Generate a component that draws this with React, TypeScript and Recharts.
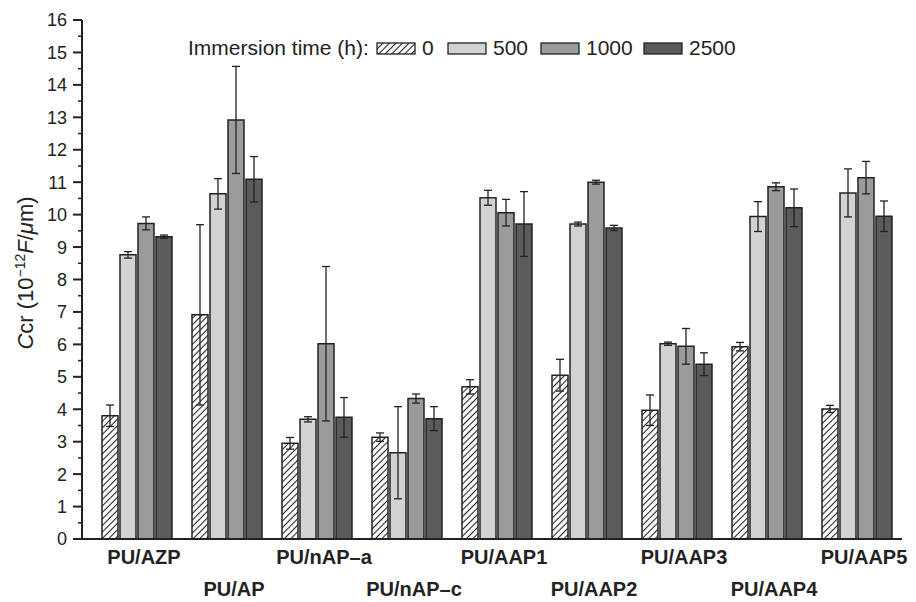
import { BarChart, Bar, XAxis, YAxis, ErrorBar } from 'recharts'

const FONT = "'Liberation Sans', Arial, Helvetica, sans-serif"
const INK = '#222'

const samples = ['PU/AZP', 'PU/AP', 'PU/nAP–a', 'PU/nAP–c', 'PU/AAP1', 'PU/AAP2', 'PU/AAP3', 'PU/AAP4', 'PU/AAP5']

// Ccr values (10^-12 F/µm) per immersion time, with error half-widths
const h0 = [3.8, 6.91, 2.95, 3.14, 4.69, 5.05, 3.97, 5.93, 4.01]
const h0Err = [0.33, 2.78, 0.18, 0.13, 0.22, 0.49, 0.47, 0.13, 0.11]
const h500 = [8.76, 10.64, 3.69, 2.66, 10.52, 9.71, 6.02, 9.94, 10.67]
const h500Err = [0.1, 0.47, 0.08, 1.42, 0.23, 0.06, 0.05, 0.46, 0.74]
const h1000 = [9.73, 12.92, 6.02, 4.33, 10.06, 11.0, 5.94, 10.86, 11.14]
const h1000Err = [0.2, 1.65, 2.38, 0.14, 0.41, 0.06, 0.55, 0.12, 0.5]
const h2500 = [9.32, 11.09, 3.75, 3.71, 9.71, 9.59, 5.39, 10.21, 9.95]
const h2500Err = [0.05, 0.7, 0.61, 0.37, 1.0, 0.08, 0.35, 0.58, 0.47]

const yTicks = [
  0, 0.5, 1, 1.5, 2, 2.5, 3, 3.5, 4, 4.5, 5, 5.5, 6, 6.5, 7, 7.5, 8, 8.5,
  9, 9.5, 10, 10.5, 11, 11.5, 12, 12.5, 13, 13.5, 14, 14.5, 15, 15.5, 16,
]

const legendItems = [
  { label: '0', fill: 'url(#hatch)', x: 377 },
  { label: '500', fill: '#d2d2d2', x: 448 },
  { label: '1000', fill: '#9b9b9b', x: 541 },
  { label: '2500', fill: '#5b5b5b', x: 644 },
]

const data = samples.map((name, i) => ({
  name,
  h0: h0[i],
  h0Err: h0Err[i],
  h500: h500[i],
  h500Err: h500Err[i],
  h1000: h1000[i],
  h1000Err: h1000Err[i],
  h2500: h2500[i],
  h2500Err: h2500Err[i],
}))

function YTick(props: any) {
  const { x, y, payload } = props
  const major = Number.isInteger(payload.value)
  return (
    <g>
      <line x1={x} x2={x - (major ? 9 : 4)} y1={y} y2={y} stroke={INK} strokeWidth={major ? 2 : 1.5} />
      {major && (
        <text x={x - 15} y={y} dy="0.36em" textAnchor="end" fontSize={18} fontFamily={FONT} fill={INK}>
          {payload.value}
        </text>
      )}
    </g>
  )
}

// sample names alternate between two rows
function XTick(props: any) {
  const { x, y, payload, index } = props
  return (
    <text
      x={x + 7}
      y={y + (index % 2 === 0 ? 25 : 57)}
      textAnchor="middle"
      fontSize={20}
      fontWeight="bold"
      fontFamily={FONT}
      fill={INK}
    >
      {payload.value}
    </text>
  )
}

export default function App() {
  const barProps = { stroke: INK, strokeWidth: 1.5, isAnimationActive: false }
  const errProps = { width: 4, stroke: INK, strokeWidth: 1.3 }
  return (
    <div style={{ position: 'absolute', left: 0, top: 0, width: 916, height: 602, background: '#fff' }}>
      <BarChart
        width={916}
        height={602}
        data={data}
        margin={{ top: 20, right: 14, bottom: 0, left: 0 }}
        barGap={2}
        barSize={16}
      >
        <defs>
          <pattern id="hatch" patternUnits="userSpaceOnUse" width={4.6} height={4.6} patternTransform="rotate(45)">
            <rect width={4.6} height={4.6} fill="#fff" />
            <line x1={2.3} y1={0} x2={2.3} y2={4.6} stroke={INK} strokeWidth={1.1} />
          </pattern>
        </defs>
        <XAxis
          dataKey="name"
          height={63}
          padding={{ left: 10, right: 0 }}
          interval={0}
          tickSize={0}
          tickMargin={0}
          tickLine={false}
          axisLine={{ stroke: INK, strokeWidth: 2 }}
          tick={<XTick />}
        />
        <XAxis xAxisId="top" orientation="top" dataKey="name" height={0} tick={false} tickLine={false} axisLine={{ stroke: INK, strokeWidth: 2 }} />
        <YAxis
          width={82}
          domain={[0, 16]}
          ticks={yTicks}
          interval={0}
          tickSize={0}
          tickMargin={0}
          tickLine={false}
          axisLine={{ stroke: INK, strokeWidth: 2 }}
          tick={<YTick />}
        />
        <YAxis yAxisId="right" orientation="right" width={0} domain={[0, 16]} tick={false} tickLine={false} axisLine={{ stroke: INK, strokeWidth: 2 }} />
        <Bar dataKey="h0" fill="url(#hatch)" {...barProps}>
          <ErrorBar dataKey="h0Err" {...errProps} />
        </Bar>
        <Bar dataKey="h500" fill="#d2d2d2" {...barProps}>
          <ErrorBar dataKey="h500Err" {...errProps} />
        </Bar>
        <Bar dataKey="h1000" fill="#9b9b9b" {...barProps}>
          <ErrorBar dataKey="h1000Err" {...errProps} />
        </Bar>
        <Bar dataKey="h2500" fill="#5b5b5b" {...barProps}>
          <ErrorBar dataKey="h2500Err" {...errProps} />
        </Bar>

        <g fontFamily={FONT} fill={INK}>
          <text x={188} y={55} fontSize={21}>
            Immersion time (h):
          </text>
          {legendItems.map((it) => (
            <g key={it.label}>
              <rect x={it.x} y={43} width={38} height={11} fill={it.fill} stroke={INK} strokeWidth={1.3} />
              <text x={it.x + 45} y={55} fontSize={21}>
                {it.label}
              </text>
            </g>
          ))}
        </g>

        <text transform="translate(33,273) rotate(-90)" textAnchor="middle" fontSize={22} fontFamily={FONT} fill={INK}>
          <tspan fontStyle="italic">C</tspan>cr (10
          <tspan dy={-8} fontSize={14}>−12</tspan>
          <tspan dy={8} fontStyle="italic">F</tspan>/<tspan fontStyle="italic">μ</tspan>m)
        </text>
      </BarChart>
    </div>
  )
}
